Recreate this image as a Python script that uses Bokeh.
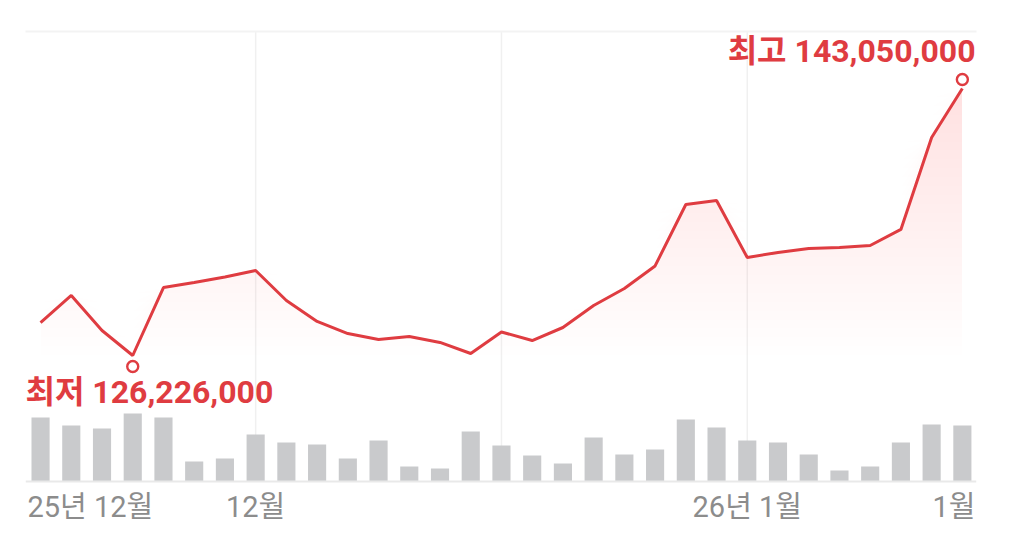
import numpy as np
from bokeh.plotting import figure
from bokeh.models import Range1d, LinearAxis, FixedTicker, Label
from bokeh.embed import file_html
from bokeh.resources import INLINE

# ---- data ----
prices = [128_305_000, 130_007_000, 127_800_000, 126_226_000, 130_510_000, 130_830_000,
          131_170_000, 131_580_000, 129_690_000, 128_370_000, 127_610_000, 127_230_000,
          127_420_000, 127_050_000, 126_350_000, 127_710_000, 127_170_000, 127_990_000,
          129_380_000, 130_450_000, 131_870_000, 135_740_000, 135_990_000, 132_400_000,
          132_720_000, 132_970_000, 133_030_000, 133_160_000, 134_170_000, 139_960_000,
          143_050_000]
volumes = [64, 56, 53, 68, 64, 20, 23, 47, 39, 37, 23, 41, 15, 13, 50, 36,
           26, 18, 44, 27, 32, 62, 54, 41, 39, 27, 11, 15, 39, 57, 56]
tick_idx = [0, 7, 23, 30]
tick_labels = ["25년 12월", "12월", "26년 1월", "1월"]
grid_idx = [7, 15, 23]

# ---- styles ----
RED = "#df3c41"
BAR = "#c9cacc"
TXT = "#8c8c8c"
FONT = "Roboto, 'Noto Sans CJK KR', sans-serif"

idx = np.arange(len(prices))
pr = np.array(prices, dtype=float)
imin, imax = int(pr.argmin()), int(pr.argmax())
pmin, pmax = pr.min(), pr.max()
span = pmax - pmin

FW, FH = 951, 504          # plot area
BASE_UP = 450              # px from baseline up to frame top
BASE_DN = FH - BASE_UP     # px below baseline (label area)
y0 = pmin - (180 / 267) * span
y1 = pmax + (57 / 267) * span
px_per_unit = FH / (y1 - y0)
vol_top = max(volumes) * BASE_UP / 68.0
vol_bot = -vol_top * BASE_DN / BASE_UP

p = figure(frame_width=FW, frame_height=FH,
           x_range=Range1d(-0.49, len(prices) - 1 + 0.46),
           y_range=Range1d(y0, y1),
           output_backend="svg", toolbar_location=None,
           x_axis_location=None, y_axis_location=None,
           min_border_left=25, min_border_top=31, min_border_right=30, min_border_bottom=0)
p.extra_y_ranges = {"vol": Range1d(vol_bot, vol_top)}
p.outline_line_color = None
p.background_fill_color = "white"
p.border_fill_color = "white"
p.xgrid.grid_line_color = None
p.ygrid.grid_line_color = None

top = LinearAxis(ticker=FixedTicker(ticks=[]), major_tick_line_color=None,
                 minor_tick_line_color=None, major_label_text_font_size="0px",
                 axis_line_color="#f3f3f3", axis_line_width=2)
p.add_layout(top, "above")

# vertical grid lines (from baseline up to top)
p.segment(x0=grid_idx, x1=grid_idx, y0=[0] * len(grid_idx), y1=[vol_top] * len(grid_idx),
          line_color="#f0f0f0", line_width=1.5, y_range_name="vol")

# volume bars
p.vbar(x=idx, top=volumes, bottom=0, width=0.59, fill_color=BAR, line_color=None,
       y_range_name="vol")

# baseline
p.hspan(y=[0], line_color="#e9e9e9", line_width=2, y_range_name="vol")

# gradient area fill (stacked translucent layers)
K = 30
for k in range(K):
    lvl = pmin + span * k / K
    p.varea(x=idx, y1=np.full(len(pr), lvl), y2=np.maximum(pr, lvl),
            fill_color=RED, fill_alpha=0.0047)

# price line
p.line(idx, pr, line_color=RED, line_width=3)

# min / max markers
p.scatter(x=[imin, imax],
          y=[pmin - 11 / px_per_unit, pmax + 9 / px_per_unit],
          size=11, fill_color="white", line_color=RED, line_width=2.4)

p.add_layout(Label(x=p.x_range.start, y=pmin, y_offset=-36, x_offset=0,
                   text=f"최저 {int(pmin):,}", text_align="left", text_baseline="middle",
                   text_color=RED, text_font=FONT, text_font_size="32px",
                   text_font_style="bold"))
p.add_layout(Label(x=p.x_range.end, y=pmax, y_offset=38, x_offset=-1,
                   text=f"최고 {int(pmax):,}", text_align="right", text_baseline="middle",
                   text_color=RED, text_font=FONT, text_font_size="32px",
                   text_font_style="bold"))

# x tick labels
n = len(tick_idx)
for i, (t, lab) in enumerate(zip(tick_idx, tick_labels)):
    if i == 0:
        x, align, xo = p.x_range.start, "left", 2
    elif i == n - 1:
        x, align, xo = p.x_range.end, "right", -1
    else:
        x, align, xo = t, "center", 0
    p.add_layout(Label(x=x, y=0, y_range_name="vol", y_offset=-25, x_offset=xo,
                       text=lab, text_align=align, text_baseline="middle",
                       text_color=TXT, text_font=FONT, text_font_size="29px"))

open("out.html", "w").write(file_html(p, INLINE))
